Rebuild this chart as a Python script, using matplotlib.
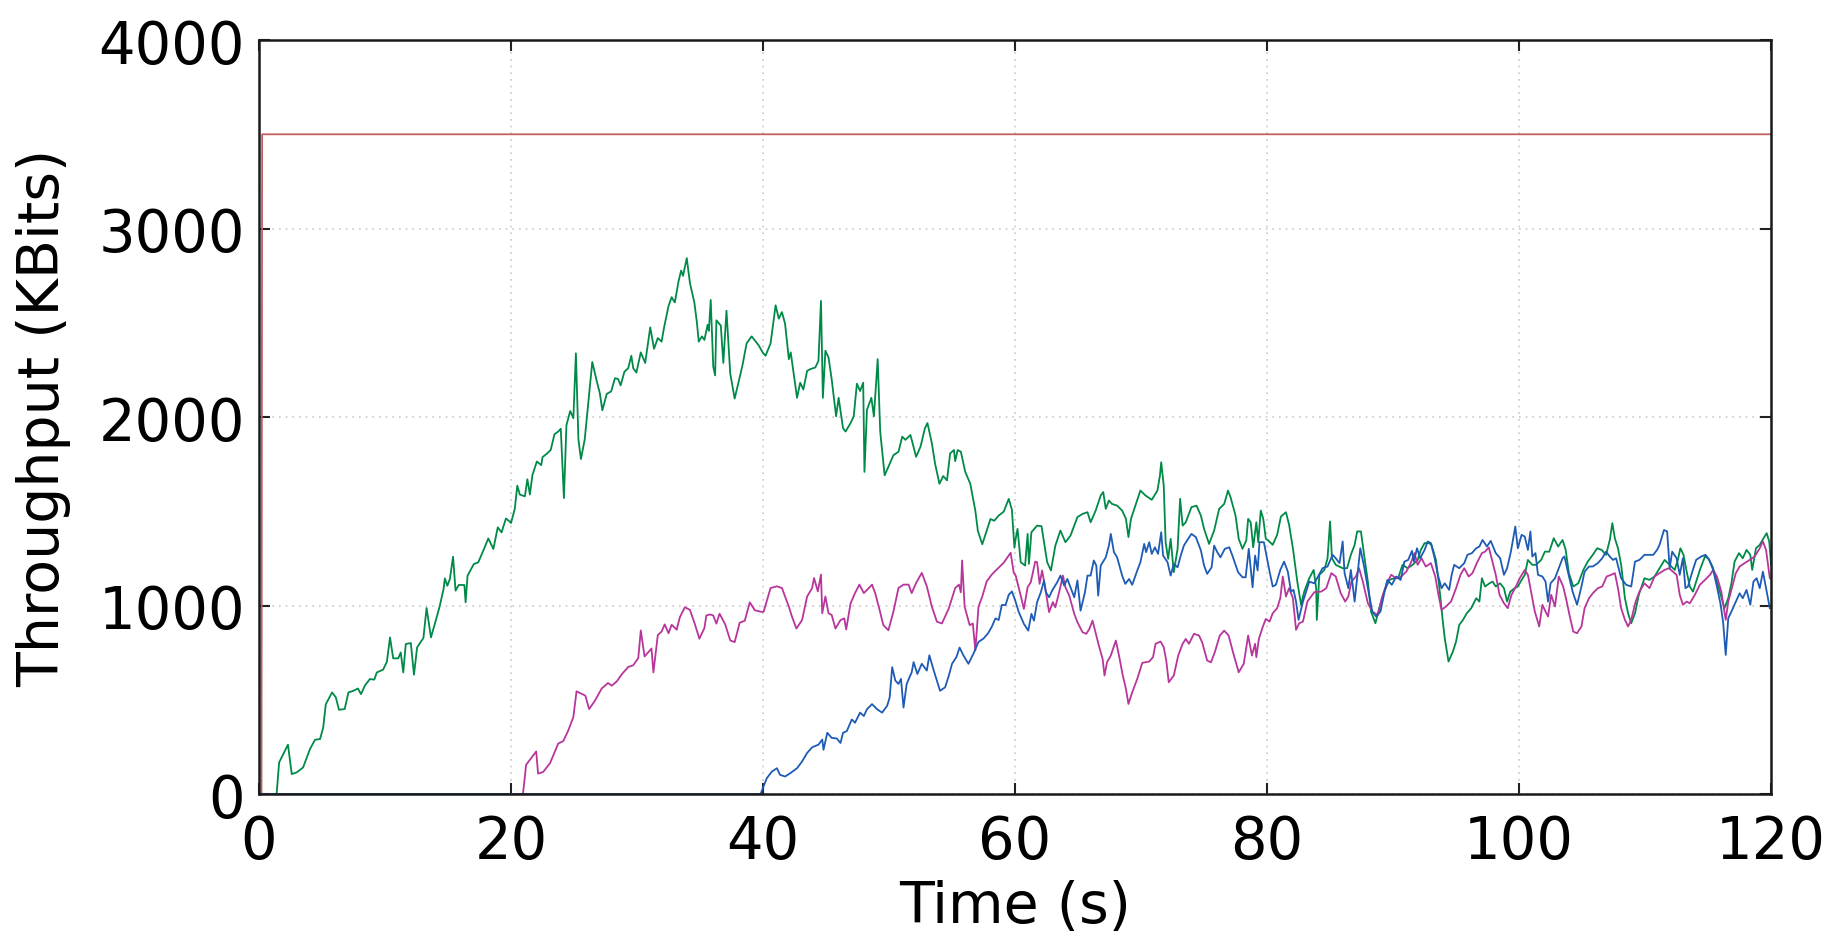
import numpy as np
import matplotlib
matplotlib.use("Agg")
import matplotlib.pyplot as plt

# ---------------- data (time in s, throughput in KBits) ----------------
red_t = [0.0, 0.2, 0.25, 120.0]
red_v = [0, 0, 3500, 3500]

green_t1 = [0, 1.4, 1.6, 2.3, 2.6, 3.0, 3.5, 4.05, 4.45, 4.85, 5.1, 5.3, 5.8, 6.1, 6.35, 6.8, 7.1, 7.5, 7.85, 8.1,
            8.4, 8.8, 9.15, 9.35, 9.85, 10.15, 10.4, 10.65, 11.05, 11.25, 11.45, 11.65, 12.05, 12.3, 12.55, 13.05,
            13.3, 13.65, 14.1, 14.35, 14.65, 14.75, 14.95, 15.15, 15.4, 15.6, 15.85, 16.3, 16.4, 16.55, 17.05, 17.4,
            17.8, 18.2, 18.6, 18.95, 19.25, 19.6, 19.9]
green_v1 = [0, 0, 168, 262, 106, 115, 141, 239, 288, 292, 354, 476, 539, 513, 447, 451, 539, 548, 560, 530,
            575, 610, 607, 645, 660, 702, 831, 720, 720, 751, 645, 796, 801, 633, 778, 828,
            987, 831, 937, 999, 1088, 1144, 1105, 1141, 1259, 1079, 1109, 1109, 1017, 1158, 1220, 1229,
            1291, 1356, 1300, 1415, 1388, 1462, 1445]
green_t2 = [20.0, 20.3, 20.5, 20.7, 21.1, 21.3, 21.5, 21.7, 22.05, 22.4, 22.5, 22.85, 23.15, 23.45, 23.75, 23.95,
            24.2, 24.4, 24.7, 24.95, 25.15, 25.35, 25.55, 25.85, 26.15, 26.45, 26.8, 27.05, 27.25, 27.6, 27.95,
            28.25, 28.5, 28.7, 29.0, 29.3, 29.55, 29.7, 29.95, 30.3, 30.65, 31.05, 31.35, 31.65, 31.95, 32.15,
            32.5, 32.75, 33.0, 33.3, 33.5, 33.65, 33.95, 34.2, 34.55, 34.75, 34.9, 35.15, 35.35, 35.6, 35.7,
            35.85, 36.05, 36.2, 36.3, 36.65, 36.85, 37.1, 37.4, 37.75, 38.05, 38.35, 38.7, 39.1, 39.65]
green_v2 = [1438, 1513, 1636, 1589, 1579, 1670, 1589, 1692, 1764, 1745, 1787, 1806, 1825, 1909, 1923, 1938,
            1570, 1957, 2032, 1994, 2338, 1881, 1777, 1881, 2089, 2292, 2192, 2126, 2036, 2123, 2136,
            2206, 2202, 2168, 2240, 2259, 2325, 2259, 2236, 2343, 2287, 2476, 2362, 2419, 2400, 2476,
            2589, 2636, 2608, 2721, 2777, 2749, 2843, 2711, 2608, 2504, 2400, 2428, 2409, 2489, 2457,
            2621, 2268, 2221, 2513, 2485, 2287, 2564, 2230, 2098, 2183, 2268, 2391, 2428, 2381]
green_t3 = [40.0, 40.2, 40.6, 41.0, 41.25, 41.5, 41.75, 42.05, 42.2, 42.7, 42.95, 43.2, 43.5, 43.75, 44.15, 44.4,
            44.6, 44.75, 44.95, 45.2, 45.45, 45.8, 46.0, 46.35, 46.55, 46.95, 47.2, 47.45, 47.7, 47.95, 48.05,
            48.25, 48.6, 48.8, 49.1, 49.3, 49.65, 49.95, 50.35, 50.75, 51.05, 51.3, 51.7, 52.15, 52.5, 52.85,
            53.05, 53.4, 53.65, 54.0, 54.3, 54.6, 54.85, 55.15, 55.25, 55.45, 55.7, 56.05, 56.45, 56.85, 57.05,
            57.4, 57.7, 58.05, 58.35, 58.7, 59.1, 59.5, 59.75, 59.95]
green_v3 = [2340, 2325, 2391, 2593, 2522, 2557, 2495, 2307, 2343, 2102, 2182, 2146, 2245, 2254, 2263, 2298,
            2616, 2102, 2352, 2316, 2200, 2004, 2102, 1941, 1923, 1968, 2004, 2177, 2138, 2182, 1709,
            2039, 2102, 2004, 2307, 1923, 1691, 1736, 1798, 1816, 1896, 1879, 1905, 1789, 1843, 1941,
            1968, 1861, 1754, 1646, 1687, 1664, 1807, 1825, 1766, 1825, 1816, 1709, 1646, 1503, 1396,
            1325, 1387, 1459, 1450, 1477, 1498, 1566, 1509, 1307]
green_t4 = [60.05, 60.2, 60.45, 60.8, 61.0, 61.1, 61.3, 61.75, 62.1, 62.3, 62.55, 62.85, 63.2, 63.6, 64.0, 64.4,
            64.95, 65.35, 65.75, 66.0, 66.4, 66.8, 67.0, 67.2, 67.45, 67.7, 68.1, 68.5, 68.8, 69.0, 69.2, 69.55,
            69.95, 70.35, 70.85, 71.3, 71.5, 71.6, 71.8, 71.95, 72.15, 72.35, 72.6, 72.9, 73.1, 73.3, 73.55,
            74.0, 74.4, 74.75, 75.0, 75.4, 75.8, 76.2, 76.6, 76.9, 77.1, 77.5, 77.75, 78.05, 78.35, 78.5, 78.7,
            78.9, 79.15, 79.3, 79.5, 79.7, 79.9]
green_v4 = [1354, 1407, 1230, 1212, 1380, 1221, 1389, 1424, 1421, 1336, 1230, 1186, 1318, 1398, 1336, 1371,
            1469, 1486, 1495, 1442, 1504, 1584, 1602, 1513, 1557, 1539, 1530, 1504, 1460, 1363, 1460, 1530,
            1610, 1584, 1561, 1610, 1690, 1760, 1637, 1336, 1248, 1354, 1177, 1301, 1566, 1424, 1442,
            1522, 1530, 1477, 1407, 1327, 1398, 1513, 1539, 1610, 1575, 1477, 1354, 1301, 1345, 1460, 1442,
            1309, 1442, 1336, 1504, 1460, 1354]
green_t5 = [80.05, 80.45, 80.8, 81.1, 81.5, 81.75, 82.05, 82.4, 82.7, 82.95, 83.35, 83.7, 83.9, 83.95, 84.15,
            84.55, 84.8, 85.0, 85.15, 85.45, 86.0, 86.35, 86.65, 86.95, 87.15, 87.45, 87.7, 88.0, 88.25, 88.6,
            88.9, 89.3, 89.7, 90.1, 90.4, 90.75, 91.15, 91.55, 91.95, 92.2, 92.5, 92.85, 93.05, 93.4, 93.65,
            93.95, 94.1, 94.4, 94.75, 95.0, 95.25, 95.55, 95.85, 96.2, 96.6, 96.85, 97.05, 97.3, 97.65, 97.9,
            98.15, 98.5, 98.8, 99.05, 99.3, 99.65, 99.9]
green_v5 = [1348, 1322, 1375, 1472, 1495, 1428, 1304, 1127, 1004, 1074, 1145, 1189, 1092, 924, 1163,
            1189, 1251, 1446, 1251, 1216, 1198, 1198, 1269, 1322, 1393, 1393, 1269, 1127, 968, 906,
            986, 1074, 1136, 1145, 1145, 1216, 1198, 1216, 1242, 1295, 1331, 1331, 1322, 1242, 1110,
            915, 827, 703, 756, 809, 897, 924, 959, 986, 1039, 1021, 1145, 1101, 1118, 1127,
            1101, 1118, 1092, 1021, 1074, 1092, 1101]
green_t6 = [100.2, 100.45, 100.7, 101.05, 101.35, 101.75, 102.05, 102.4, 102.75, 103.1, 103.45, 103.7, 103.95,
            104.3, 104.7, 105.1, 105.45, 105.85, 106.2, 106.55, 106.9, 107.2, 107.4, 107.6, 107.85, 108.1,
            108.4, 108.65, 108.9, 109.2, 109.5, 109.95, 110.35, 110.75, 111.15, 111.55, 111.95, 112.35, 112.6,
            112.8, 113.05, 113.3, 113.55, 113.8, 114.05, 114.35, 114.75, 115.0, 115.35, 115.6, 115.85, 116.15,
            116.3, 116.6, 116.85, 117.1, 117.45, 117.75, 118.05, 118.35, 118.5, 118.8, 119.1, 119.4, 119.65,
            119.85, 120.0]
green_v6 = [1136, 1163, 1242, 1216, 1216, 1242, 1286, 1286, 1357, 1313, 1348, 1295, 1172,
            1101, 1118, 1189, 1233, 1269, 1304, 1295, 1269, 1348, 1437, 1357, 1304, 1216,
            1039, 959, 906, 959, 1057, 1145, 1136, 1154, 1198, 1242, 1216, 1189, 1242,
            1304, 1269, 1180, 1101, 1074, 1127, 1189, 1260, 1251, 1207, 1154, 1092, 1021,
            986, 1039, 1118, 1233, 1278, 1251, 1295, 1269, 1189, 1304, 1322, 1357, 1384,
            1340, 1216]

magenta_t1 = [0, 20.95, 21.2, 22.0, 22.15, 22.55, 23.1, 23.75, 24.15, 24.55, 24.95, 25.2, 25.6, 25.9, 26.2, 26.65,
              27.2, 27.7, 28.0, 28.4, 28.8, 29.3, 29.7, 30.1, 30.3, 30.6, 31.15, 31.3, 31.65, 31.95, 32.2, 32.5,
              32.75, 33.15, 33.4, 33.8, 34.2, 34.6, 34.95, 35.35, 35.5, 35.8, 36.05, 36.3, 36.55, 37.0, 37.4,
              37.75, 38.15, 38.55, 38.95, 39.35, 39.9]
magenta_v1 = [0, 0, 155, 226, 108, 117, 164, 268, 281, 338, 409, 545, 532, 522, 451, 494,
              560, 589, 575, 598, 636, 674, 683, 721, 868, 730, 772, 645, 843, 862, 900, 853,
              898, 872, 938, 991, 977, 900, 824, 881, 947, 953, 947, 904, 957, 900, 815,
              806, 909, 919, 1017, 975, 966]
magenta_t2 = [40.05, 40.6, 41.1, 41.5, 42.05, 42.3, 42.65, 43.1, 43.5, 43.9, 44.05, 44.35, 44.6, 44.7, 44.95, 45.2,
              45.45, 45.75, 46.15, 46.45, 46.6, 46.95, 47.3, 47.65, 48.0, 48.4, 48.65, 48.9, 49.25, 49.55, 49.95,
              50.35, 50.75, 51.15, 51.55, 51.8, 52.15, 52.6, 53.0, 53.4, 53.8, 54.2, 54.75, 55.25, 55.55, 55.7,
              55.8, 56.0, 56.4, 56.65, 56.85, 57.1, 57.4, 57.75, 58.15, 58.55, 59.1, 59.65, 59.9]
magenta_v2 = [968, 1093, 1102, 1093, 994, 941, 878, 923, 1048, 1093, 1146, 1075, 1164, 959, 1048, 959,
              950, 878, 923, 932, 873, 1012, 1066, 1111, 1066, 1093, 1111, 1066, 977, 896, 869,
              968, 1093, 1111, 1111, 1066, 1120, 1173, 1102, 994, 914, 905, 986, 1093, 1111, 1070,
              1239, 994, 896, 905, 762, 994, 1048, 1128, 1164, 1191, 1227, 1280, 1173]
magenta_t3 = [60.05, 60.45, 60.7, 61.0, 61.25, 61.6, 61.75, 61.95, 62.15, 62.45, 62.7, 63.0, 63.2, 63.5, 63.8, 64.0,
              64.3, 64.7, 64.95, 65.35, 65.65, 65.9, 66.15, 66.35, 66.65, 66.95, 67.1, 67.3, 67.6, 68.0, 68.25,
              68.55, 68.8, 69.0, 69.3, 69.7, 70.1, 70.65, 70.95, 71.15, 71.55, 71.8, 72.0, 72.2, 72.6, 72.95,
              73.3, 73.55, 73.8, 74.2, 74.6, 74.85, 75.25, 75.55, 75.85, 76.25, 76.6, 76.95, 77.3, 77.75, 78.15,
              78.5, 78.8, 79.05, 79.15, 79.35, 79.65, 79.9]
magenta_v3 = [1159, 1053, 982, 1097, 1124, 1233, 1230, 1115, 1186, 1071, 965, 1018, 991, 1071, 1159, 1097,
              1053, 956, 912, 859, 850, 876, 920, 867, 788, 717, 629, 699, 735, 814, 735,
              629, 558, 478, 540, 611, 696, 703, 726, 797, 809, 779, 708, 593, 629, 735,
              797, 823, 797, 850, 841, 805, 708, 699, 752, 841, 867, 841, 752, 646, 691,
              841, 735, 797, 726, 823, 885, 929]
magenta_t4 = [80.2, 80.45, 80.8, 81.05, 81.25, 81.5, 81.75, 82.05, 82.3, 82.55, 82.85, 83.2, 83.75, 84.3, 84.7,
              85.1, 85.45, 85.85, 86.2, 86.45, 86.7, 87.05, 87.3, 87.6, 88.0, 88.4, 88.8, 89.1, 89.5, 89.85,
              90.25, 90.65, 91.05, 91.4, 91.7, 91.95, 92.25, 92.6, 93.0, 93.35, 93.6, 93.85, 94.2, 94.6, 95.0,
              95.35, 95.65, 96.0, 96.3, 96.7, 97.05, 97.3, 97.6, 97.85, 98.15, 98.45, 98.8, 99.1, 99.4, 99.75]
magenta_v4 = [915, 959, 986, 1039, 1154, 1048, 1092, 1039, 871, 906, 915, 1021, 1071, 1074, 1092,
              1172, 1154, 1065, 1021, 1048, 1127, 1154, 1198, 1127, 1012, 965, 950, 1039, 1118, 1163,
              1145, 1154, 1180, 1225, 1278, 1216, 1251, 1207, 1225, 1154, 1057, 977, 995, 1021, 1092,
              1163, 1198, 1154, 1172, 1233, 1278, 1286, 1308, 1242, 1163, 1057, 1012, 986, 1057, 1101]
magenta_t5 = [100.05, 100.45, 100.7, 101.0, 101.25, 101.6, 101.85, 102.1, 102.3, 102.55, 102.85, 103.15, 103.5,
              103.75, 104.0, 104.3, 104.6, 104.95, 105.2, 105.55, 105.85, 106.25, 106.6, 106.95, 107.3, 107.6,
              107.85, 108.1, 108.4, 108.65, 108.9, 109.25, 109.55, 109.95, 110.35, 110.75, 111.15, 111.55, 111.9,
              112.2, 112.5, 112.75, 113.0, 113.3, 113.55, 113.95, 114.35, 114.75, 115.15, 115.4, 115.7, 116.05,
              116.25, 116.4, 116.6, 116.85, 117.2, 117.5, 117.9, 118.3, 118.7, 119.1, 119.35, 119.6, 119.9]
magenta_v5 = [1145, 1189, 1163, 1057, 968, 889, 1004, 968, 942, 1057, 995, 1154, 1101,
              1030, 950, 862, 853, 889, 986, 1039, 1065, 1092, 1101, 1154, 1163, 1172,
              1092, 986, 924, 889, 924, 1021, 1074, 1118, 1092, 1154, 1172, 1189, 1198,
              1180, 1163, 1057, 1004, 1021, 1012, 1057, 1110, 1136, 1163, 1189, 1154, 1074,
              986, 924, 1021, 1083, 1172, 1207, 1225, 1242, 1260, 1304, 1340, 1295, 1145]

blue_t1 = [0, 39.8, 40.3, 40.7, 41.1, 41.35, 41.75, 42.15, 42.7, 43.1, 43.5, 43.9, 44.4, 44.7, 44.8, 45.1, 45.45,
           45.85, 46.15, 46.35, 46.65, 47.05, 47.3, 47.7, 48.0, 48.25, 48.65, 49.05, 49.45, 49.85, 50.05, 50.25,
           50.5, 50.75, 50.95, 51.15, 51.4, 51.8, 51.95, 52.25, 52.6, 53.0, 53.2, 53.55, 53.8, 54.05, 54.45,
           54.75, 55.0, 55.35, 55.6, 55.9, 56.3, 56.7, 57.1, 57.5, 57.85, 58.15, 58.45, 58.7, 58.95, 59.25,
           59.5, 59.75]
blue_v1 = [0, 0, 84, 119, 137, 102, 93, 110, 137, 173, 218, 248, 262, 289, 235, 325, 298,
           295, 271, 325, 334, 396, 378, 432, 414, 450, 477, 450, 432, 468, 512, 673,
           602, 584, 611, 459, 584, 646, 700, 637, 691, 655, 736, 655, 602, 548, 566,
           629, 691, 727, 777, 736, 691, 745, 807, 825, 852, 887, 932, 923, 1003, 1003,
           1057, 1075]
blue_t2 = [60.0, 60.3, 60.7, 61.05, 61.3, 61.5, 61.75, 62.05, 62.3, 62.45, 62.7, 62.95, 63.35, 63.6, 63.9, 64.15,
           64.4, 64.7, 64.95, 65.2, 65.55, 65.75, 66.0, 66.25, 66.45, 66.6, 66.8, 67.2, 67.45, 67.6, 67.85, 68.1,
           68.5, 68.75, 69.05, 69.3, 69.7, 69.95, 70.25, 70.4, 70.65, 70.85, 71.1, 71.35, 71.6, 71.75, 72.1,
           72.35, 72.6, 72.9, 73.15, 73.4, 73.65, 74.0, 74.35, 74.75, 75.0, 75.25, 75.6, 75.8, 76.05, 76.3,
           76.65, 77.0, 77.25, 77.7, 78.05, 78.3, 78.55, 78.85, 79.05, 79.25, 79.4, 79.75]
blue_v2 = [1030, 965, 903, 867, 956, 920, 1018, 1071, 1133, 1071, 1044, 1080, 1124, 1159, 1106, 1141,
           1097, 1044, 1133, 973, 1071, 1159, 1159, 1239, 1212, 1053, 1212, 1256, 1318, 1380, 1283, 1256,
           1159, 1115, 1141, 1110, 1186, 1230, 1327, 1283, 1336, 1274, 1309, 1274, 1389, 1265, 1230,
           1159, 1221, 1203, 1265, 1318, 1345, 1380, 1363, 1292, 1212, 1168, 1203, 1318, 1283, 1256,
           1301, 1309, 1265, 1177, 1150, 1150, 1301, 1097, 1265, 1186, 1336, 1336]
blue_t3 = [80.2, 80.45, 80.7, 81.05, 81.35, 81.65, 81.9, 82.1, 82.3, 82.5, 82.85, 83.1, 83.35, 83.75, 84.05, 84.4,
           84.8, 85.2, 85.45, 85.75, 86.0, 86.15, 86.45, 86.65, 86.95, 87.2, 87.4, 87.7, 88.0, 88.35, 88.65,
           89.0, 89.3, 89.55, 89.9, 90.25, 90.6, 90.9, 91.2, 91.5, 91.65, 91.9, 92.15, 92.5, 92.75, 93.0,
           93.3, 93.55, 93.85, 94.1, 94.45, 94.65, 94.85, 95.25, 95.65, 95.9, 96.25, 96.6, 96.85, 97.1, 97.45,
           97.75, 98.15, 98.5, 98.8, 99.05, 99.35, 99.7, 99.9]
blue_v3 = [1180, 1101, 1110, 1189, 1233, 1180, 1074, 1083, 1021, 924, 1021, 1074, 1127, 1118, 1154, 1198,
           1207, 1269, 1251, 1225, 1340, 1172, 1092, 1189, 1021, 1180, 1304, 1207, 1092, 968, 942,
           968, 1065, 1136, 1110, 1154, 1136, 1233, 1242, 1290, 1233, 1304, 1251, 1295, 1340, 1331,
           1251, 1163, 1092, 1118, 1083, 1163, 1216, 1198, 1225, 1269, 1278, 1304, 1313, 1348, 1313,
           1343, 1278, 1251, 1163, 1198, 1286, 1419, 1304]
blue_t4 = [100.2, 100.45, 100.7, 100.9, 101.05, 101.3, 101.5, 101.85, 102.1, 102.3, 102.5, 102.85, 103.1,
           103.45, 103.6, 103.9, 104.25, 104.6, 104.95, 105.2, 105.55, 105.85, 106.25, 106.6, 106.9, 107.2,
           107.45, 107.7, 108.1, 108.5, 108.9, 109.2, 109.55, 109.95, 110.35, 110.65, 110.95, 111.15, 111.5,
           111.75, 111.95, 112.15, 112.5, 112.75, 113.0, 113.2, 113.4, 113.75, 114.05, 114.45, 114.8, 115.1,
           115.4, 115.7, 116.0, 116.2, 116.4, 116.6, 116.85, 117.2, 117.5, 117.75, 118.05, 118.35, 118.6,
           118.85, 119.1, 119.35, 119.65, 119.9]
blue_v4 = [1375, 1366, 1295, 1393, 1260, 1278, 1163, 1154, 1127, 1021, 1118, 1145, 1189,
           1251, 1260, 1172, 1074, 1004, 1101, 1180, 1207, 1207, 1225, 1251, 1286, 1260,
           1242, 1251, 1145, 1110, 1101, 1233, 1242, 1269, 1269, 1269, 1295, 1322, 1401,
           1393, 1198, 1286, 1251, 1163, 1251, 1092, 1101, 1180, 1242, 1260, 1269, 1242,
           1189, 1101, 1004, 906, 738, 933, 968, 1021, 1065, 1039, 1083, 1004, 1127,
           1145, 1092, 1180, 1074, 986]

colors = {"red": "#C25E5E", "green": "#008A48", "magenta": "#B8359C", "blue": "#1E5BB4"}


def join(pairs, name):
    ts, vs = [], []
    for i, (t, v) in enumerate(pairs):
        if len(t) != len(v):
            raise ValueError(f"{name} segment {i}: {len(t)} vs {len(v)}")
        ts += t
        vs += v
    return np.array(ts), np.array(vs)


green = join([(green_t1, green_v1), (green_t2, green_v2), (green_t3, green_v3),
              (green_t4, green_v4), (green_t5, green_v5), (green_t6, green_v6)], "green")
magenta = join([(magenta_t1, magenta_v1), (magenta_t2, magenta_v2), (magenta_t3, magenta_v3),
                (magenta_t4, magenta_v4), (magenta_t5, magenta_v5)], "magenta")
blue = join([(blue_t1, blue_v1), (blue_t2, blue_v2), (blue_t3, blue_v3), (blue_t4, blue_v4)], "blue")

plt.rcParams["font.family"] = ["DejaVu Sans"]

fig = plt.figure(figsize=(18.38, 9.37), dpi=100)
ax = fig.add_axes([0.1409, 0.1515, 0.8227, 0.8047])

ax.plot(red_t, red_v, color=colors["red"], lw=1.3, zorder=3)
ax.plot(*green, color=colors["green"], lw=1.3, zorder=3)
ax.plot(*magenta, color=colors["magenta"], lw=1.3, zorder=3)
ax.plot(*blue, color=colors["blue"], lw=1.3, zorder=3)

ax.set_xlim(0, 120)
ax.set_ylim(0, 4000)
ax.set_xticks([0, 20, 40, 60, 80, 100, 120])
ax.set_yticks([0, 1000, 2000, 3000, 4000])

ax.grid(True, color="#c8c8c8", linestyle=(0, (1, 3)), linewidth=1.2)
ax.tick_params(axis="both", which="both", direction="in", top=True, right=True,
               length=8, width=1.5, labelsize=41.5, color="#222222")
ax.tick_params(axis="x", pad=14)
ax.tick_params(axis="y", pad=10)
for s in ax.spines.values():
    s.set_linewidth(1.8)
    s.set_color("#1a1a1a")
    s.set_zorder(4)

ax.set_xlabel("Time (s)", fontsize=41, labelpad=6)
ax.set_ylabel("Throughput (KBits)", fontsize=41, labelpad=20)

fig.savefig("out.png", dpi=100)
